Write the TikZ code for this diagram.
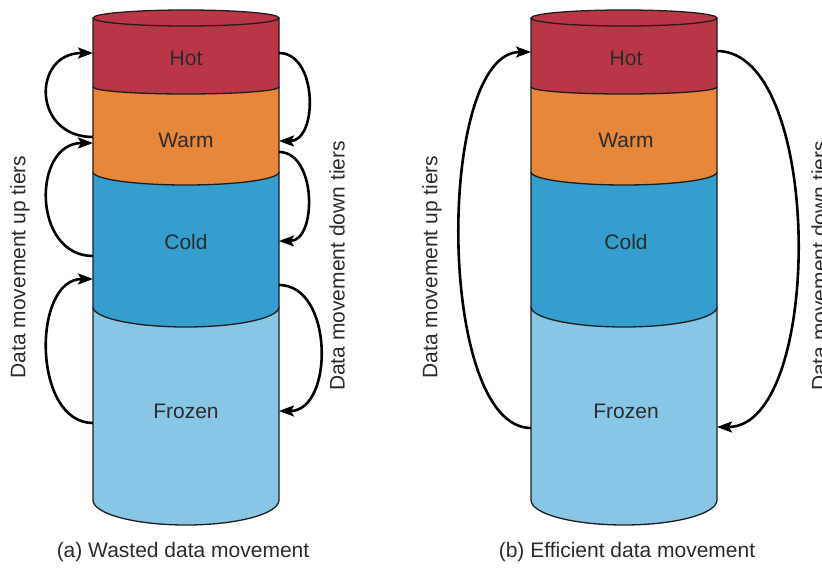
\documentclass[tikz,border=0pt]{standalone}
\usepackage{fontspec}
\setmainfont{Liberation Sans}
\usetikzlibrary{arrows.meta}

\definecolor{hotc}{HTML}{BA3646}
\definecolor{warmc}{HTML}{E6873A}
\definecolor{coldc}{HTML}{349ECE}
\definecolor{frozenc}{HTML}{88C6E6}
\definecolor{edgec}{HTML}{1E1E1E}
\definecolor{txtc}{HTML}{2B2B2B}

\tikzset{
  lbl/.style={font=\fontsize{21}{25}\selectfont, text=txtc, inner sep=0pt},
  band/.style={draw=edgec, line width=1.3pt, line join=round},
  flow/.style={draw=black, line width=2.6pt,
    -{Stealth[length=15pt,width=11pt,inset=3pt]}},
}

% One storage cylinder with four tiers, centred at x = #1
\newcommand\tiercylinder[1]{%
  \begin{scope}[shift={(#1,0)}]
    \path[band, fill=frozenc] (-93,307) -- (93,307) -- (93,500)
      arc[start angle=0, end angle=180, x radius=93, y radius=25] -- cycle;
    \path[band, fill=coldc] (-93,172) -- (93,172) -- (93,307)
      arc[start angle=0, end angle=180, x radius=93, y radius=20] -- cycle;
    \path[band, fill=warmc] (-93,87) -- (93,87) -- (93,172)
      arc[start angle=0, end angle=180, x radius=93, y radius=13] -- cycle;
    \path[band, fill=hotc] (-93,18) -- (93,18) -- (93,87)
      arc[start angle=0, end angle=180, x radius=93, y radius=7] -- cycle;
    \path[band, fill=hotc] (0,18) ellipse[x radius=93, y radius=8];
  \end{scope}}

\begin{document}
\begin{tikzpicture}[x=1pt, y=-1pt]
  \useasboundingbox (0,0) rectangle (822,570);

  % ---- (a) wasted data movement ----
  \tiercylinder{186}
  \node[lbl] (hotA)    at (186,58)  {Hot};
  \node[lbl] (warmA)   at (186,140) {Warm};
  \node[lbl] (coldA)   at (186,242) {Cold};
  \node[lbl] (frozenA) at (186,411) {Frozen};

  \coordinate (aHotL)   at (93,53);
  \coordinate (aWarmL1) at (93,137);
  \coordinate (aWarmL2) at (93,143);
  \coordinate (aColdL1) at (93,256);
  \coordinate (aColdL2) at (93,279);
  \coordinate (aFrozL)  at (93,423);

  \coordinate (aHotR)   at (279,53);
  \coordinate (aWarmR1) at (279,141);
  \coordinate (aWarmR2) at (279,152);
  \coordinate (aColdR1) at (279,241);
  \coordinate (aColdR2) at (279,285);
  \coordinate (aFrozR)  at (279,411);

  \draw[flow] (aWarmL1) .. controls +(-61,0) and +(-61,0) .. (aHotL);
  \draw[flow] (aColdL1) .. controls +(-61,0) and +(-61,0) .. (aWarmL2);
  \draw[flow] (aFrozL)  .. controls +(-61,0) and +(-61,0) .. (aColdL2);

  \draw[flow] (aHotR)   .. controls +(39,0) and +(39,0) .. (aWarmR1);
  \draw[flow] (aWarmR2) .. controls +(38,0) and +(38,0) .. (aColdR1);
  \draw[flow] (aColdR2) .. controls +(55,0) and +(55,0) .. (aFrozR);

  \node[lbl, rotate=90] (upA)   at (20,267)  {Data movement up tiers};
  \node[lbl, rotate=90] (downA) at (337,266) {Data movement down tiers};
  \node[lbl] (capA) at (183,552) {(a) Wasted data movement};

  % ---- (b) efficient data movement ----
  \tiercylinder{624}
  \node[lbl] (hotB)    at (626,58)  {Hot};
  \node[lbl] (warmB)   at (626,140) {Warm};
  \node[lbl] (coldB)   at (626,242) {Cold};
  \node[lbl] (frozenB) at (626,411) {Frozen};

  \coordinate (bHotL)  at (531,52);
  \coordinate (bFrozL) at (531,428);
  \coordinate (bHotR)  at (717,51);
  \coordinate (bFrozR) at (717,427);

  \draw[flow] (bFrozL) .. controls +(-95,0) and +(-95,0) .. (bHotL);
  \draw[flow] (bHotR)  .. controls +(107,0) and +(107,0) .. (bFrozR);

  \node[lbl, rotate=90] (upB)   at (432,267) {Data movement up tiers};
  \node[lbl, rotate=90] (downB) at (819,266) {Data movement down tiers};
  \node[lbl] (capB) at (627,552) {(b) Efficient data movement};
\end{tikzpicture}
\end{document}
